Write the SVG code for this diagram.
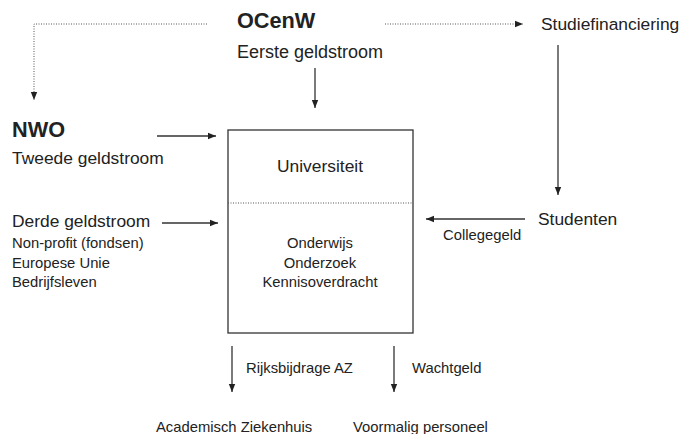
<svg xmlns="http://www.w3.org/2000/svg" width="680" height="434" viewBox="0 0 680 434">
<style>
text{font-family:"Liberation Sans",Arial,sans-serif;fill:#222}
.b{font-weight:bold;font-size:21.7px}
.m{font-size:17.4px}
.s{font-size:14.8px}
.ln{stroke:#333;stroke-width:1.3;fill:none}
.dot{stroke:#555;stroke-width:1;stroke-dasharray:1 1.5;fill:none}
</style>
<defs>
<marker id="ah" viewBox="0 0 10 10" refX="10" refY="5" markerWidth="8" markerHeight="8" markerUnits="userSpaceOnUse" orient="auto"><path d="M0,1 L10,5 L0,9 z" fill="#222"/></marker>
</defs>
<g id="ocenw"><text class="b" x="237" y="28">OCenW</text><text class="m" x="237" y="58" style="font-size:18px">Eerste geldstroom</text></g>
<g id="studiefinanciering"><text class="m" x="541" y="30">Studiefinanciering</text></g>
<g id="nwo"><text class="b" x="12" y="137">NWO</text><text class="m" x="12" y="164">Tweede geldstroom</text></g>
<g id="derde"><text class="m" x="12" y="227">Derde geldstroom</text><text class="s" x="12" y="248">Non-profit (fondsen)</text><text class="s" x="12" y="268">Europese Unie</text><text class="s" x="12" y="287">Bedrijfsleven</text></g>
<g id="universiteit"><rect x="228" y="130" width="185" height="203" class="ln" stroke-width="1"/><line x1="228" y1="203" x2="413" y2="203" class="dot"/><text class="m" x="320" y="172" text-anchor="middle">Universiteit</text><text class="s" x="320" y="248" text-anchor="middle">Onderwijs</text><text class="s" x="320" y="268" text-anchor="middle">Onderzoek</text><text class="s" x="320" y="287" text-anchor="middle">Kennisoverdracht</text></g>
<g id="studenten"><text class="m" x="538" y="225">Studenten</text></g>
<g id="az"><text class="s" x="156" y="432">Academisch Ziekenhuis</text></g>
<g id="personeel"><text class="s" x="353" y="432">Voormalig personeel</text></g>
<g id="connectors">
<polyline class="dot" points="207,24 34,24 34,100" marker-end="url(#ah)"/>
<line class="dot" x1="385" y1="24" x2="523" y2="24" marker-end="url(#ah)"/>
<line class="ln" x1="315" y1="68" x2="315" y2="108" marker-end="url(#ah)"/>
<line class="ln" x1="558" y1="45" x2="558" y2="195" marker-end="url(#ah)"/>
<line class="ln" x1="157" y1="136" x2="216" y2="136" marker-end="url(#ah)"/>
<line class="ln" x1="162" y1="223" x2="218" y2="223" marker-end="url(#ah)"/>
<line class="ln" x1="525" y1="219" x2="426" y2="219" marker-end="url(#ah)"/>
<line class="ln" x1="232" y1="346" x2="232" y2="392" marker-end="url(#ah)"/>
<line class="ln" x1="394" y1="346" x2="394" y2="392" marker-end="url(#ah)"/>
<text class="s" x="443" y="240">Collegegeld</text>
<text class="s" x="246" y="373">Rijksbijdrage AZ</text>
<text class="s" x="412" y="373">Wachtgeld</text>
</g>
</svg>
